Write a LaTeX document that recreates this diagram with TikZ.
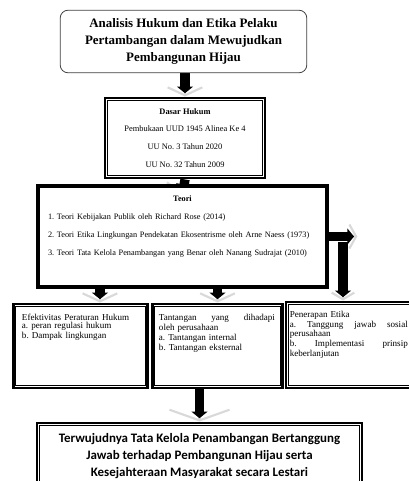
\documentclass[tikz,border=0pt]{standalone}
\usepackage{fontspec}
\setmainfont{Liberation Serif}
\newfontfamily\calibri{Carlito}
\usetikzlibrary{arrows.meta, positioning, backgrounds}
\frenchspacing

% thin inner line of the double frames
\newcommand{\innerframe}[1]{%
  \draw[line width=0.6pt] ([shift={(3pt,-3pt)}]#1.north west) rectangle ([shift={(-3pt,3pt)}]#1.south east);}
% block arrow: grey chevron under a black shaft
\newcommand{\blockarrow}[3][]{%
  \draw[shade, #1] #2 -- #3;
  \draw[blk] #2 -- #3;}
% glue that spreads a line over the full width
\newcommand{\sprd}{\hskip 0pt plus 1filll\relax}

\begin{document}
\begin{tikzpicture}[
  x=0.75pt, y=-0.75pt,
  titlebox/.style = {rectangle, rounded corners=6pt, draw=black!75, line width=0.6pt, fill=white,
                     align=center, font=\fontsize{9.7}{12.9}\selectfont\bfseries},
  dbox/.style     = {rectangle, draw, line width=2.2pt, fill=white, inner sep=0pt},
  txt/.style      = {inner sep=0pt, align=left},
  blk/.style      = {line width=7pt, shorten >=2.5pt, -{Triangle[width=12pt, length=5pt]}},
  shade/.style    = {draw=gray!30, line width=1.6pt, -{Straight Barb[width=26pt, length=6pt]}}
]
\useasboundingbox (0,0) rectangle (409,481);

% boxes
\node[titlebox, minimum width=185pt, minimum height=47pt] (judul) at (183.5,41.5)
  {Analisis Hukum dan Etika Pelaku\\Pertambangan dalam Mewujudkan\\Pembangunan Hijau};

\node[dbox, minimum width=120pt, minimum height=60pt, align=center,
      font=\fontsize{6.3}{13.3}\selectfont] (dasar) at (185,138)
  {\textbf{Dasar Hukum}\\Pembukaan UUD 1945 Alinea Ke 4\\UU No. 3 Tahun 2020\\UU No. 32 Tahun 2009};
\innerframe{dasar}

\node[dbox, minimum width=218pt, minimum height=77pt] (teori) at (182.5,236.5) {};
\innerframe{teori}
\node[txt, text width=201.75pt, anchor=north, font=\fontsize{6.2}{13.5}\selectfont]
  (teoritxt) at ([yshift=-9pt]teori.north)
  {\leavevmode\sprd\textbf{Teori}\sprd\mbox{}\\
   1. Teori Kebijakan Publik oleh Richard Rose (2014)\\
   2. Teori Etika Lingkungan Pendekatan Ekosentrisme oleh Arne Naess (1973)\\
   3. Teori Tata Kelola Penambangan yang Benar oleh Nanang Sudrajat (2010)};

\node[dbox, minimum width=101pt, minimum height=63pt] (hukum) at (80.5,346) {};
\innerframe{hukum}
\node[txt, text width=88pt, anchor=north west, font=\fontsize{6.8}{6}\selectfont]
  (hukumtxt) at ([shift={(7.5pt,-8.5pt)}]hukum.north west)
  {Efektivitas Peraturan Hukum\\a. peran regulasi hukum\\b. Dampak lingkungan};

\node[dbox, minimum width=98pt, minimum height=63pt] (tantangan) at (217.5,346) {};
\innerframe{tantangan}
\node[txt, text width=87pt, anchor=north west, font=\fontsize{6.8}{6}\selectfont]
  (tantangantxt) at ([shift={(6pt,-8.5pt)}]tantangan.north west)
  {Tantangan\sprd yang\sprd dihadapi\\oleh perusahaan\\[1pt]
   a. Tantangan internal\\b. Tantangan eksternal};

\node[dbox, minimum width=108pt, minimum height=64.5pt] (etika) at (358,345) {};
\innerframe{etika}
\node[txt, text width=88.5pt, anchor=north west, font=\fontsize{6.8}{6}\selectfont]
  (etikatxt) at ([shift={(3.75pt,-8pt)}]etika.north west)
  {Penerapan Etika\\a.\sprd Tanggung\sprd jawab\sprd sosial\\perusahaan\\
   b.\sprd Implementasi\sprd prinsip\\keberlanjutan};

\node[dbox, minimum width=243.75pt, minimum height=49.5pt, align=center,
      font=\calibri\fontsize{9.7}{12.6}\selectfont\bfseries] (hasil) at (199.5,456)
  {Terwujudnya Tata Kelola Penambangan Bertanggung\\Jawab terhadap Pembangunan Hijau serta\\
   Kesejahteraan Masyarakat secara Lestari};
\innerframe{hasil}

\coordinate (masukhukum) at ([xshift=14.6pt]hukum.north);
\coordinate (masuketika) at ([xshift=-11.25pt]etika.north);
\coordinate (belok) at ([xshift=21pt]teori.east);

% arrows
\begin{scope}[on background layer]
\blockarrow{(judul.south -| dasar.north)}{(dasar.north)}
\blockarrow{(dasar.south)}{([yshift=-8pt]teori.north)}
\blockarrow{(teori.south -| masukhukum)}{(masukhukum)}
\blockarrow{(teori.south -| tantangan.north)}{(tantangan.north)}
\blockarrow[{-{Straight Barb[width=18pt, length=5pt]}}]{(teori.east)}{(belok)}
\blockarrow[{-{Straight Barb[width=17pt, length=5pt]}}]{([yshift=-4pt]teori.east -| masuketika)}{(masuketika)}
\blockarrow[{-{Straight Barb[width=45pt, length=8pt]}}]{(tantangan.south -| hasil.north)}{(hasil.north)}
\end{scope}

\end{tikzpicture}
\end{document}
